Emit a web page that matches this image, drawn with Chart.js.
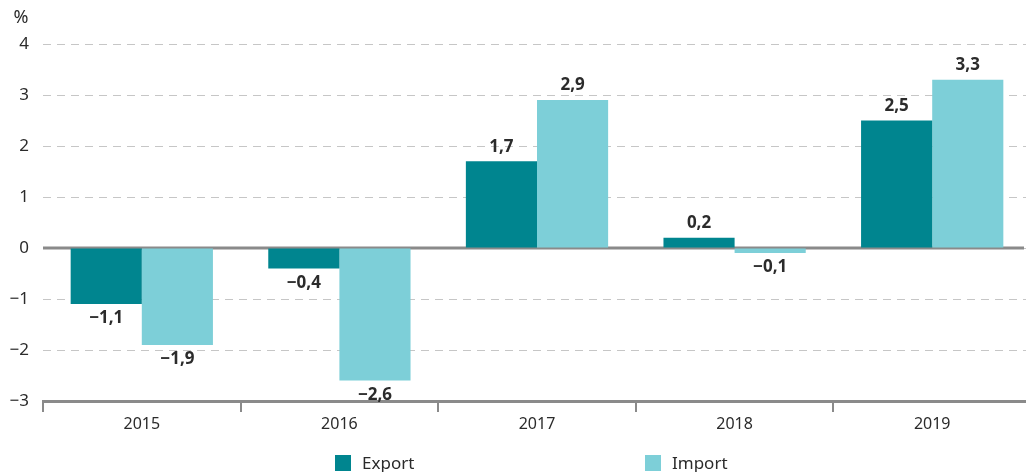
<!DOCTYPE html>
<html>
<head>
<meta charset="utf-8">
<script src="https://cdn.jsdelivr.net/npm/chart.js@4/dist/chart.umd.min.js"></script>
<style>
    html, body { margin: 0; padding: 0; background: #fff; overflow: hidden; }
    #wrap { width: 1033px; height: 472px; position: relative; }
</style>
</head>
<body>
<div id="wrap"><canvas id="grafico"></canvas></div>
<script>
// ---- dados ----
const ANOS        = ['2015', '2016', '2017', '2018', '2019'];
const EXPORT_VALS = [-1.1, -0.4, 1.7, 0.2, 2.5];
const IMPORT_VALS = [-1.9, -2.6, 2.9, -0.1, 3.3];
const Y_TICKS     = [4, 3, 2, 1, 0, -1, -2, -3];

const FONTE = '"Noto Sans", "Open Sans", sans-serif';
const COR_TEXTO = '#2b2b2b';
const COR_EIXO  = '#8a8a8a';

const fmt = v => (v < 0 ? '\u2212' : '') + Math.abs(v).toFixed(1).replace('.', ',');
const fmtTick = v => (v < 0 ? '\u2212' : '') + Math.abs(v);

// rótulos em cima / embaixo das barras
const rotulosPlugin = {
    id: 'rotulos',
    afterDatasetsDraw(chart) {
        const ctx = chart.ctx;
        ctx.save();
        ctx.font = `bold 17px ${FONTE}`;
        ctx.fillStyle = COR_TEXTO;
        ctx.textAlign = 'center';
        chart.data.datasets.forEach((ds, i) => {
            chart.getDatasetMeta(i).data.forEach((bar, j) => {
                const v = ds.data[j];
                if (v >= 0) {
                    ctx.textBaseline = 'bottom';
                    ctx.fillText(fmt(v), bar.x, bar.y - 6);
                } else {
                    ctx.textBaseline = 'top';
                    ctx.fillText(fmt(v), bar.x, bar.y + 6);
                }
            });
        });
        ctx.restore();
    }
};

// linha do zero + "%" + legenda
const extrasPlugin = {
    id: 'extras',
    beforeDatasetsDraw(chart) {
        const { ctx, chartArea, scales } = chart;
        const y0 = scales.y.getPixelForValue(0);
        ctx.save();
        ctx.strokeStyle = COR_EIXO;
        ctx.lineWidth = 3;
        ctx.beginPath();
        ctx.moveTo(chartArea.left, y0);
        ctx.lineTo(1024, y0);
        ctx.stroke();
        ctx.restore();
    },
    afterDraw(chart) {
        const ctx = chart.ctx;
        ctx.save();
        ctx.font = `18px ${FONTE}`;
        ctx.fillStyle = COR_TEXTO;
        ctx.textAlign = 'center';
        ctx.textBaseline = 'middle';
        ctx.fillText('%', 21, 18);

        const posX = [335, 645];
        ctx.font = `17px ${FONTE}`;
        ctx.textAlign = 'left';
        chart.data.datasets.forEach((ds, i) => {
            ctx.fillStyle = ds.backgroundColor;
            ctx.fillRect(posX[i], 455, 16, 16);
            ctx.fillStyle = COR_TEXTO;
            ctx.fillText(ds.label, posX[i] + 27, 464);
        });
        ctx.restore();
    }
};

new Chart(document.getElementById('grafico').getContext('2d'), {
    type: 'bar',
    data: {
        labels: ANOS,
        datasets: [
            { label: 'Export', data: EXPORT_VALS, backgroundColor: '#00858f' },
            { label: 'Import', data: IMPORT_VALS, backgroundColor: '#7dcfd8' }
        ]
    },
    options: {
        responsive: true,
        maintainAspectRatio: false,
        animation: false,
        datasets: { bar: { categoryPercentage: 0.72, barPercentage: 1.0 } },
        layout: { padding: { top: 44, right: 2, bottom: 35, left: 0 } },
        plugins: { legend: { display: false }, tooltip: { enabled: false } },
        scales: {
            x: {
                afterFit: s => { s.height = 36; },
                border: { display: true, color: COR_EIXO, width: 3 },
                grid: {
                    offset: true,
                    drawOnChartArea: false,
                    drawTicks: true,
                    tickLength: 11,
                    color: COR_EIXO,
                    lineWidth: 2
                },
                ticks: { color: COR_TEXTO, font: { family: FONTE, size: 16 }, padding: 3 }
            },
            y: {
                min: -3, max: 4,
                afterFit: s => { s.width = 43; },
                afterBuildTicks: s => { s.ticks = Y_TICKS.map(v => ({ value: v })); },
                border: { display: false, dash: [8, 6] },
                grid: { color: '#c6c6c6', lineWidth: 1, drawTicks: false },
                ticks: {
                    color: COR_TEXTO,
                    font: { family: FONTE, size: 17 },
                    padding: 14,
                    callback: v => fmtTick(v)
                }
            }
        }
    },
    plugins: [rotulosPlugin, extrasPlugin]
});
</script>
</body>
</html>
